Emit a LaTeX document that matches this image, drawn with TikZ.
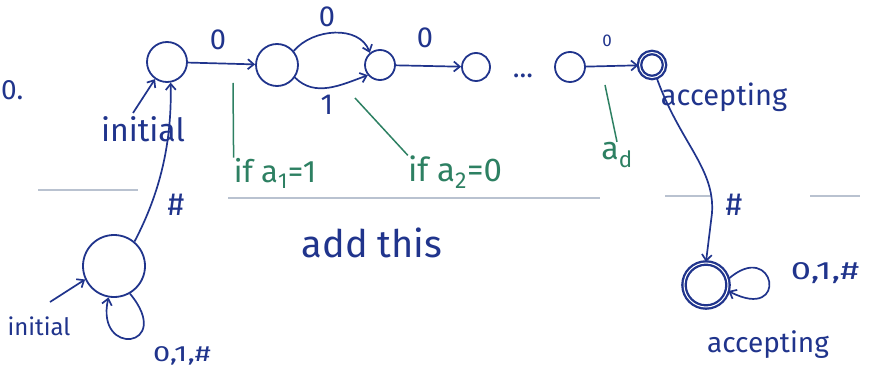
\documentclass[tikz,border=0pt]{standalone}
\usepackage{fontspec}
\usepackage{graphicx}
\setmainfont{Fira Sans}
\usetikzlibrary{arrows.meta}
\definecolor{pen}{RGB}{32,52,140}
\definecolor{grn}{RGB}{45,128,98}
\definecolor{faint}{RGB}{185,194,208}
\begin{document}
\begin{tikzpicture}[x=1pt,y=1pt,
  st/.style={circle,draw=pen,line width=1.8pt,inner sep=0pt},
  acc/.style={st,double=white,double distance=1pt,line width=2.3pt},
  ed/.style={draw=pen,line width=1.7pt,-{Straight Barb[length=6pt,width=10pt]}},
  lb/.style={text=pen,font=\fontsize{29}{31}\selectfont,inner sep=0pt},
  gl/.style={text=grn,font=\fontsize{31}{33}\selectfont,inner sep=0pt},
  gline/.style={draw=grn,line width=1.5pt},
  fl/.style={draw=faint,line width=1.4pt}]
\useasboundingbox (0,0) rectangle (882,383);
% faint background lines
\draw[fl] (38,193) -- (138,193);
\draw[fl] (228,185) -- (600,185);
\draw[fl] (665,187) -- (712,187);
\draw[fl] (810,187) -- (860,187);
% states
\node[st,minimum size=40pt] (A) at (167,321) {};
\node[st,minimum size=42pt] (B) at (277,318) {};
\node[st,minimum size=30pt] (C) at (380,318) {};
\node[st,minimum size=28pt] (D) at (476,316) {};
\node[st,minimum size=30pt] (E) at (570,316) {};
\node[acc,minimum size=25pt] (F) at (652,318) {};
\node[acc,minimum size=44pt] (G) at (706,98) {};
\node[st,minimum size=62pt] (H) at (114,117) {};
% texts
\node[lb,anchor=west,font=\fontsize{28}{30}\selectfont] (zero) at (1,293) {0.};
\node[lb,font=\fontsize{28}{30}\selectfont] (dots) at (523,307) {...};
\node[lb] (l1) at (218,343) {0};
\node[lb] (l2) at (327,366) {0};
\node[lb] (l3) at (327,278) {1};
\node[lb] (l4) at (425,345) {0};
\node[lb,font=\fontsize{17}{19}\selectfont] (l5) at (607,342) {0};
\node[lb,font=\fontsize{29}{31}\selectfont] (accF) at (724,286) {accepting};
\node[lb,font=\fontsize{32}{34}\selectfont] (hF) at (734,178) {\#};
\node[lb,font=\fontsize{25}{27}\selectfont] (loopG) at (825,110) {\scalebox{1.45}[1]{0,1,\#}};
\node[lb,font=\fontsize{28}{30}\selectfont] (accG) at (768,38) {accepting};
\node[lb,font=\fontsize{32}{34}\selectfont] (iniA) at (143,254) {initial};
\coordinate (iniAtail) at (133,270);
\node[lb,font=\fontsize{32}{34}\selectfont] (hH) at (176,178) {\#};
\node[lb,font=\fontsize{22}{24}\selectfont] (loopH) at (182,27) {\scalebox{1.4}[1]{0,1,\#}};
\node[lb,font=\fontsize{24}{26}\selectfont] (iniH) at (39,57) {initial};
\coordinate (iniHtail) at (50,81);
\node[lb,font=\fontsize{38}{40}\selectfont] (add) at (372,140) {add this};
\node[gl] (if1) at (275,210) {if a\textsubscript{1}=1};
\node[gl,font=\fontsize{33}{35}\selectfont] (if2) at (455,211) {if a\textsubscript{2}=0};
\node[gl,font=\fontsize{32}{34}\selectfont] (ad) at (617,228) {a\textsubscript{d}};
\coordinate (g1) at (233,300);
\coordinate (g2) at (355,285);
\coordinate (g3) at (605,298);
% edges
\draw[ed] (A) -- (B);
\draw[ed] (B.40) to[out=50,in=110] (C.130);
\draw[ed] (B.-35) to[out=-45,in=-160] (C.-140);
\draw[ed] (C) -- (D);
\draw[ed] (E) -- (F);
\draw[ed] (F.-70) .. controls (680,240) and (715,215) .. (712,170) -- (G.north);
\draw[ed] (H.50) .. controls (160,190) and (172,240) .. (A.-80);
\draw[ed] (iniAtail) -- (A.-125);
\draw[ed] (iniHtail) -- (H.-155);
\draw[ed] (G.15) .. controls (775,145) and (790,60) .. (G.-15);
\draw[ed] (H.-60) .. controls (175,35) and (95,25) .. (H.-100);
% green pointers
\draw[gline] (g1) -- (if1.north west);
\draw[gline] (g2) -- (if2.north west);
\draw[gline] (g3) -- (ad.north);
\end{tikzpicture}
\end{document}
